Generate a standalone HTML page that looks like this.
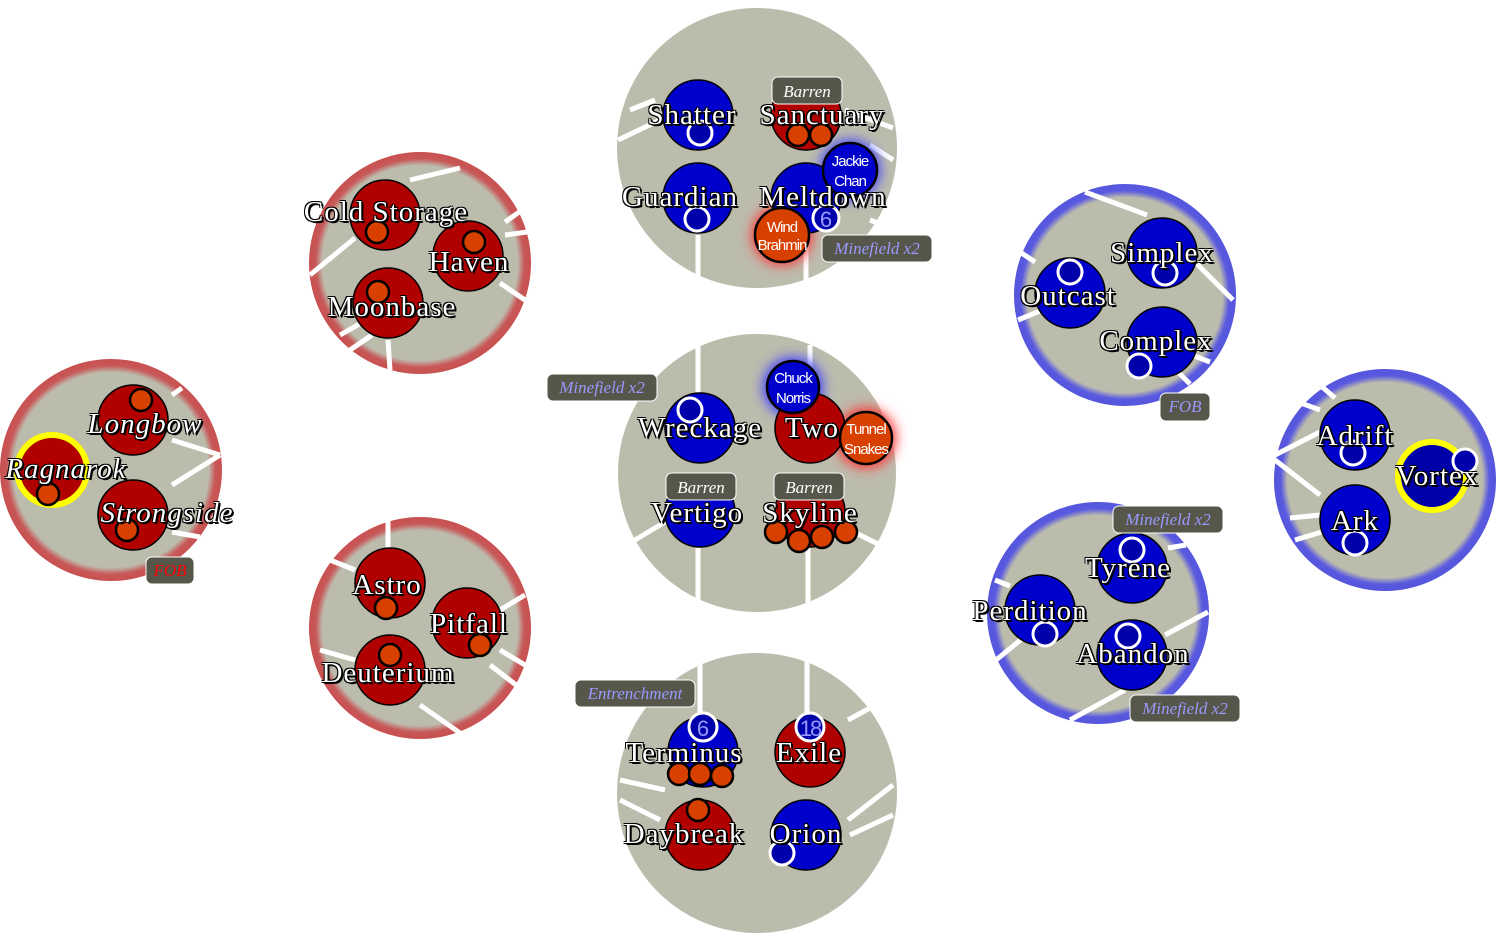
<!DOCTYPE html>
<html><head><meta charset="utf-8"><style>
html,body{margin:0;padding:0;background:#fff;}
svg{display:block;}
.n{font-family:"Liberation Serif",serif;font-size:29px;letter-spacing:1px;fill:#fff;text-anchor:middle;text-shadow:2px 2px 0 #000,-1px -1px 0 #000,1px -1px 0 #000,-1px 1px 0 #000,2px 1px 0 #000;}
.t{font-family:"Liberation Serif",serif;font-style:italic;font-size:17px;text-anchor:middle;}
.s{font-family:"Liberation Sans",sans-serif;font-size:15px;fill:#fff;text-anchor:middle;letter-spacing:-1px;}
.b{fill:#0000cc;stroke:#000;stroke-width:1.5;}
.r{fill:#b00000;stroke:#000;stroke-width:1.5;}
.o{fill:#d84000;stroke:#000;stroke-width:2.5;}
.w{fill:#0000aa;stroke:#fff;stroke-width:3;}
.l{stroke:#fff;stroke-width:5;}
.g{fill:#bcbcad;}
.box{fill:#56564a;stroke:#fff;stroke-width:1;}
</style></head><body>
<svg width="1497" height="942" viewBox="0 0 1497 942">
<defs>
<filter id="bl" x="-50%" y="-50%" width="200%" height="200%"><feGaussianBlur stdDeviation="6"/></filter>
<radialGradient id="rr"><stop offset="0.88" stop-color="#bcbcad"/><stop offset="0.94" stop-color="#c85858"/><stop offset="1" stop-color="#c85050"/></radialGradient>
<radialGradient id="bb"><stop offset="0.88" stop-color="#bcbcad"/><stop offset="0.94" stop-color="#5a5ae0"/><stop offset="1" stop-color="#5555dd"/></radialGradient>
</defs>

<circle class="g" cx="757" cy="148" r="140"/>
<circle class="g" cx="757" cy="473" r="139"/>
<circle class="g" cx="757" cy="793" r="140"/>
<circle fill="url(#rr)" cx="420" cy="263" r="111"/>
<circle fill="url(#rr)" cx="420" cy="628" r="111"/>
<circle fill="url(#rr)" cx="111" cy="470" r="111"/>
<circle fill="url(#bb)" cx="1125" cy="295" r="111"/>
<circle fill="url(#bb)" cx="1098" cy="613" r="111"/>
<circle fill="url(#bb)" cx="1385" cy="480" r="111"/>

<g class="l">
<line x1="618" y1="140" x2="660" y2="120"/><line x1="630" y1="110" x2="655" y2="100"/>
<line x1="698" y1="235" x2="698" y2="288"/><line x1="806" y1="235" x2="806" y2="283"/>
<line x1="845" y1="110" x2="893" y2="128"/><line x1="870" y1="145" x2="893" y2="160"/>
<line x1="870" y1="220" x2="890" y2="228"/>
<line x1="698" y1="337" x2="698" y2="395"/><line x1="810" y1="345" x2="810" y2="395"/>
<line x1="698" y1="548" x2="698" y2="605"/><line x1="808" y1="548" x2="808" y2="605"/>
<line x1="635" y1="540" x2="665" y2="522"/><line x1="850" y1="530" x2="880" y2="545"/>
<line x1="700" y1="655" x2="700" y2="715"/><line x1="807" y1="655" x2="807" y2="715"/>
<line x1="620" y1="780" x2="665" y2="790"/><line x1="620" y1="800" x2="660" y2="820"/>
<line x1="848" y1="720" x2="870" y2="708"/><line x1="848" y1="820" x2="893" y2="785"/><line x1="850" y1="835" x2="893" y2="815"/>
<line x1="410" y1="180" x2="460" y2="168"/><line x1="310" y1="275" x2="355" y2="238"/>
<line x1="505" y1="222" x2="525" y2="208"/><line x1="505" y1="235" x2="527" y2="232"/>
<line x1="500" y1="283" x2="525" y2="300"/><line x1="340" y1="335" x2="370" y2="318"/><line x1="350" y1="350" x2="372" y2="335"/><line x1="388" y1="340" x2="390" y2="370"/>
<line x1="388" y1="520" x2="388" y2="550"/><line x1="330" y1="560" x2="355" y2="570"/><line x1="500" y1="610" x2="525" y2="595"/>
<line x1="500" y1="650" x2="525" y2="665"/><line x1="490" y1="665" x2="520" y2="688"/><line x1="320" y1="650" x2="355" y2="660"/>
<line x1="420" y1="705" x2="460" y2="733"/>
<line x1="172" y1="395" x2="182" y2="388"/><line x1="172" y1="440" x2="220" y2="455"/><line x1="172" y1="485" x2="220" y2="455"/>
<line x1="172" y1="532" x2="200" y2="537"/>
<line x1="1085" y1="192" x2="1147" y2="215"/><line x1="1020" y1="252" x2="1035" y2="262"/><line x1="1018" y1="320" x2="1040" y2="311"/>
<line x1="1195" y1="262" x2="1233" y2="300"/><line x1="1192" y1="355" x2="1210" y2="362"/><line x1="1178" y1="372" x2="1190" y2="384"/>
<line x1="1320" y1="385" x2="1335" y2="398"/><line x1="1298" y1="402" x2="1320" y2="410"/><line x1="1275" y1="455" x2="1320" y2="432"/><line x1="1275" y1="460" x2="1320" y2="495"/><line x1="1290" y1="518" x2="1320" y2="515"/><line x1="1295" y1="540" x2="1335" y2="528"/>
<line x1="995" y1="580" x2="1010" y2="586"/><line x1="1168" y1="548" x2="1186" y2="545"/>
<line x1="1165" y1="635" x2="1208" y2="612"/><line x1="990" y1="665" x2="1035" y2="628"/><line x1="1070" y1="720" x2="1125" y2="690"/>
</g>

<circle cx="850" cy="170" r="30" fill="#4040ff" filter="url(#bl)"/>
<circle cx="782" cy="235" r="30" fill="#ff3030" filter="url(#bl)"/>
<circle cx="793" cy="387" r="30" fill="#4040ff" filter="url(#bl)"/>
<circle cx="866" cy="438" r="30" fill="#ff3030" filter="url(#bl)"/>

<circle class="b" cx="698" cy="115" r="35"/><circle class="w" cx="700" cy="133" r="12"/>
<circle class="r" cx="806" cy="115" r="35"/><circle class="o" cx="798" cy="135" r="11"/><circle class="o" cx="821" cy="135" r="11"/>
<circle class="b" cx="698" cy="198" r="35"/><circle class="w" cx="697" cy="219" r="12"/>
<circle class="b" cx="806" cy="198" r="35"/>
<circle class="w" cx="826" cy="218" r="13"/><text x="826" y="227" style="font-family:'Liberation Sans',sans-serif;font-size:22px;fill:#9999ff;text-anchor:middle">6</text>
<circle cx="850" cy="170" r="27" fill="#0000cc" stroke="#000" stroke-width="2.5"/>
<text class="s" x="850" y="166">Jackie</text><text class="s" x="850" y="186">Chan</text>
<circle cx="782" cy="235" r="27" class="o"/>
<text class="s" x="782" y="232">Wind</text><text class="s" x="782" y="250">Brahmin</text>
<text class="n" x="692" y="124">Shatter</text><text class="n" x="822" y="124">Sanctuary</text>
<text class="n" x="680" y="206">Guardian</text><text class="n" x="823" y="206">Meltdown</text>
<rect class="box" x="772" y="77" width="70" height="27" rx="6"/><text class="t" x="807" y="97" fill="#fff">Barren</text>
<rect class="box" x="822" y="235" width="110" height="27" rx="6"/><text class="t" x="877" y="254" fill="#9999ff">Minefield x2</text>

<circle class="b" cx="700" cy="428" r="35"/><circle class="w" cx="690" cy="410" r="12"/>
<circle class="r" cx="810" cy="428" r="35"/>
<circle class="b" cx="700" cy="512" r="35"/>
<circle class="r" cx="810" cy="512" r="35"/>
<circle class="o" cx="776" cy="532" r="11"/><circle class="o" cx="799" cy="541" r="11"/><circle class="o" cx="822" cy="537" r="11"/><circle class="o" cx="846" cy="532" r="11"/>
<circle cx="793" cy="387" r="26" fill="#0000cc" stroke="#000" stroke-width="2.5"/>
<text class="s" x="793" y="383">Chuck</text><text class="s" x="793" y="403">Norris</text>
<circle cx="866" cy="438" r="26" class="o"/>
<text class="s" x="866" y="434">Tunnel</text><text class="s" x="866" y="454">Snakes</text>
<text class="n" x="700" y="437">Wreckage</text><text class="n" x="812" y="437">Two</text>
<text class="n" x="697" y="522">Vertigo</text><text class="n" x="810" y="522">Skyline</text>
<rect class="box" x="666" y="473" width="70" height="27" rx="6"/><text class="t" x="701" y="493" fill="#fff">Barren</text>
<rect class="box" x="774" y="473" width="70" height="27" rx="6"/><text class="t" x="809" y="493" fill="#fff">Barren</text>
<rect class="box" x="547" y="374" width="110" height="27" rx="6"/><text class="t" x="602" y="393" fill="#9999ff">Minefield x2</text>

<circle class="b" cx="703" cy="752" r="35"/>
<circle class="r" cx="810" cy="752" r="35"/>
<circle class="r" cx="700" cy="835" r="35"/><circle class="o" cx="698" cy="810" r="11"/>
<circle class="b" cx="806" cy="835" r="35"/><circle class="w" cx="782" cy="853" r="12"/>
<circle class="w" cx="703" cy="727" r="14"/><text x="703" y="736" style="font-family:'Liberation Sans',sans-serif;font-size:22px;fill:#9999ff;text-anchor:middle">6</text>
<circle class="w" cx="810" cy="727" r="14"/><text x="810" y="736" style="font-family:'Liberation Sans',sans-serif;font-size:22px;fill:#9999ff;text-anchor:middle;letter-spacing:-2px">18</text>
<circle class="o" cx="679" cy="774" r="11"/><circle class="o" cx="700" cy="774" r="11"/><circle class="o" cx="722" cy="776" r="11"/>
<text class="n" x="684" y="762">Terminus</text><text class="n" x="809" y="762">Exile</text>
<text class="n" x="684" y="843">Daybreak</text><text class="n" x="806" y="843">Orion</text>
<rect class="box" x="575" y="680" width="120" height="27" rx="6"/><text class="t" x="635" y="699" fill="#9999ff">Entrenchment</text>

<circle class="r" cx="385" cy="215" r="35"/><circle class="o" cx="377" cy="232" r="11"/>
<circle class="r" cx="468" cy="256" r="35"/><circle class="o" cx="474" cy="242" r="11"/>
<circle class="r" cx="388" cy="303" r="35"/><circle class="o" cx="378" cy="292" r="11"/>
<text class="n" x="386" y="221">Cold Storage</text><text class="n" x="469" y="271">Haven</text><text class="n" x="392" y="316">Moonbase</text>

<circle class="r" cx="390" cy="583" r="35"/><circle class="o" cx="386" cy="608" r="11"/>
<circle class="r" cx="467" cy="623" r="35"/><circle class="o" cx="480" cy="645" r="11"/>
<circle class="r" cx="390" cy="670" r="35"/><circle class="o" cx="390" cy="655" r="11"/>
<text class="n" x="387" y="594">Astro</text><text class="n" x="469" y="633">Pitfall</text><text class="n" x="388" y="682">Deuterium</text>

<circle class="r" cx="133" cy="420" r="35"/><circle class="o" cx="141" cy="400" r="11"/>
<circle cx="52" cy="470" r="35" fill="#b00000" stroke="#ffff00" stroke-width="6"/><circle class="o" cx="48" cy="494" r="11"/>
<circle class="r" cx="133" cy="515" r="35"/><circle class="o" cx="127" cy="530" r="11"/>
<text class="n" x="145" y="433" font-style="italic">Longbow</text><text class="n" x="66" y="478" font-style="italic">Ragnarok</text><text class="n" x="167" y="522" font-style="italic">Strongside</text>
<rect class="box" x="146" y="557" width="48" height="27" rx="6"/><text class="t" x="170" y="576" fill="#ff0000">FOB</text>

<circle class="b" cx="1162" cy="253" r="35"/><circle class="w" cx="1165" cy="273" r="12"/>
<circle class="b" cx="1070" cy="293" r="35"/><circle class="w" cx="1070" cy="272" r="12"/>
<circle class="b" cx="1162" cy="342" r="35"/><circle class="w" cx="1139" cy="366" r="12"/>
<text class="n" x="1162" y="262">Simplex</text><text class="n" x="1068" y="305">Outcast</text><text class="n" x="1156" y="350">Complex</text>
<rect class="box" x="1160" y="393" width="50" height="28" rx="6"/><text class="t" x="1185" y="412" fill="#9999ff">FOB</text>

<circle class="b" cx="1132" cy="568" r="35"/><circle class="w" cx="1132" cy="550" r="12"/>
<circle class="b" cx="1040" cy="610" r="35"/><circle class="w" cx="1045" cy="634" r="12"/>
<circle class="b" cx="1132" cy="655" r="35"/><circle class="w" cx="1128" cy="636" r="12"/>
<text class="n" x="1128" y="577">Tyrene</text><text class="n" x="1030" y="620">Perdition</text><text class="n" x="1133" y="663">Abandon</text>
<rect class="box" x="1113" y="506" width="110" height="27" rx="6"/><text class="t" x="1168" y="525" fill="#9999ff">Minefield x2</text>
<rect class="box" x="1130" y="695" width="110" height="27" rx="6"/><text class="t" x="1185" y="714" fill="#9999ff">Minefield x2</text>

<circle class="b" cx="1355" cy="435" r="35"/><circle class="w" cx="1353" cy="453" r="12"/>
<circle cx="1432" cy="476" r="34" fill="#0000aa" stroke="#ffff00" stroke-width="6"/><circle class="w" cx="1465" cy="461" r="12"/>
<circle class="b" cx="1355" cy="520" r="35"/><circle class="w" cx="1355" cy="543" r="12"/>
<text class="n" x="1355" y="445">Adrift</text><text class="n" x="1437" y="485">Vortex</text><text class="n" x="1355" y="530">Ark</text>
</svg>
</body></html>
